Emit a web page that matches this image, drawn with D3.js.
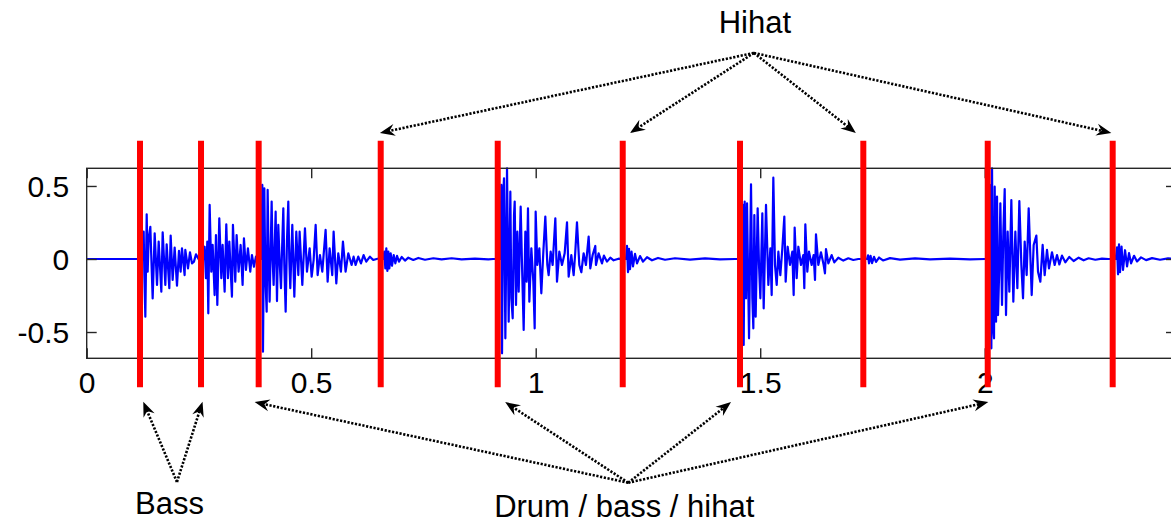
<!DOCTYPE html>
<html>
<head>
<meta charset="utf-8">
<script src="https://cdn.jsdelivr.net/npm/d3@7"></script>
<style>
  html, body { margin: 0; padding: 0; background: #fff; }
  svg { display: block; }
  text { font-family: "Liberation Sans", Arial, sans-serif; fill: #000; }
</style>
</head>
<body>
<svg id="chart" width="1171" height="525"></svg>
<script>
// ---------- data ----------
const xTicks = [0, 0.5, 1, 1.5, 2];
const xTickLabels = ["0", "0.5", "1", "1.5", "2"];
const yTicks = [-0.5, 0, 0.5];
const yTickLabels = ["-0.5", "0", "0.5"];

// onset markers (seconds)
const onsetTimes = [0.1187, 0.2546, 0.383, 0.6548, 0.9154, 1.1938, 1.455, 1.7296, 2.0067, 2.285];

// waveform pieces: [time (s), amplitude]
const silenceStart = [[0, 0], [0.124, 0]];
const bassHit1 = [[0.1254,0],[0.1269,0.187],[0.1284,-0.11],[0.1306,-0.395],[0.1336,0.306],[0.1358,-0.087],[0.138,0.14],[0.1417,0.22],[0.1469,-0.27],[0.1514,0.176],[0.1566,-0.178],[0.1603,0.119],[0.1662,-0.224],[0.1692,0.183],[0.1751,-0.178],[0.1781,0.10],[0.184,-0.20],[0.187,0.16],[0.1914,-0.144],[0.1959,0.078],[0.2011,-0.183],[0.2055,0.055],[0.2092,-0.087],[0.2122,0.073],[0.2181,-0.11],[0.2196,0.062],[0.2256,-0.064],[0.23,0.046],[0.2345,-0.03],[0.2389,-0.018],[0.2434,0.032],[0.2500,-0.005]];
const bassHit2 = [[0.2612,0],[0.2627,0.084],[0.2656,-0.132],[0.2686,0.119],[0.2708,-0.372],[0.2738,0.37],[0.2775,-0.087],[0.2805,0.096],[0.2849,-0.247],[0.2879,0.164],[0.2909,-0.315],[0.2953,0.279],[0.2998,-0.132],[0.3027,0.096],[0.3072,-0.224],[0.3109,0.237],[0.3146,-0.132],[0.3176,0.119],[0.3235,-0.258],[0.3257,0.233],[0.3309,-0.155],[0.3339,0.164],[0.3383,-0.087],[0.3428,0.096],[0.3472,-0.178],[0.3502,0.142],[0.3547,-0.075],[0.3591,0.073],[0.3643,-0.087],[0.368,0.027],[0.3725,-0.053],[0.3769,0.016],[0.3829,0]];
const drumHit1 = [[0.3896,0],[0.3911,0.507],[0.3926,-0.635],[0.3956,0.484],[0.3978,-0.11],[0.4008,-0.361],[0.403,0.473],[0.4052,0],[0.4074,-0.292],[0.4119,0.393],[0.4141,0],[0.4163,-0.178],[0.4208,0.324],[0.4238,-0.288],[0.4267,0.233],[0.4297,-0.018],[0.4327,-0.2],[0.4356,0.119],[0.4379,0.347],[0.4401,-0.041],[0.4431,-0.361],[0.446,0.119],[0.449,0.393],[0.4512,0],[0.4534,-0.2],[0.4579,0.233],[0.4624,-0.258],[0.4668,0.187],[0.4713,-0.11],[0.4742,0.187],[0.4802,-0.178],[0.4861,0.21],[0.4906,-0.087],[0.4965,0.073],[0.501,-0.121],[0.5054,-0.007],[0.5099,0.233],[0.5143,-0.11],[0.5195,0.027],[0.5247,-0.087],[0.5321,0.199],[0.5366,-0.155],[0.541,0.073],[0.5469,-0.11],[0.5499,0.187],[0.5559,-0.167],[0.5603,0.039],[0.5662,-0.087],[0.5707,0.119],[0.5766,-0.087],[0.5826,0.039],[0.59,-0.041],[0.5944,0.016],[0.5989,-0.041],[0.6048,0.016],[0.6108,-0.03],[0.6167,0.027],[0.6226,-0.018],[0.6308,0.016],[0.6382,-0.007],[0.6456,0],[0.653,0.005]];
const hihatHit1 = [[0.6607,0],[0.6629,0.05],[0.6651,-0.064],[0.6673,0.073],[0.6696,-0.082],[0.6718,0.05],[0.674,-0.064],[0.677,0.039],[0.6799,-0.046],[0.6837,0.027],[0.6874,-0.03],[0.6911,0.021],[0.6955,-0.018],[0.7015,0.014],[0.7089,-0.011],[0.7163,0.009],[0.7274,-0.007],[0.7386,0.007],[0.7534,-0.005],[0.772,0.005],[0.7905,-0.003],[0.8128,0.005],[0.835,-0.003],[0.8647,0.003],[0.8944,-0.003],[0.9055,0]];
const drumHit2 = [[0.9212,0],[0.9235,0.507],[0.925,-0.646],[0.9272,0.416],[0.9294,0.553],[0.9324,-0.543],[0.9361,0.621],[0.9398,-0.429],[0.9435,0.461],[0.9457,-0.269],[0.9487,-0.406],[0.9517,0.301],[0.9532,0.393],[0.9561,-0.315],[0.9591,0.187],[0.9621,-0.224],[0.9665,0.358],[0.9695,-0.041],[0.9732,-0.486],[0.9769,0.187],[0.9799,-0.155],[0.9828,0.347],[0.9858,-0.292],[0.9903,0.073],[0.9947,-0.155],[0.9977,-0.475],[0.9999,0.324],[1.0036,-0.041],[1.0081,0.073],[1.0125,-0.235],[1.017,0.05],[1.0214,0.29],[1.0259,-0.041],[1.0288,-0.11],[1.0333,0.05],[1.0377,-0.041],[1.0437,0.279],[1.0474,-0.155],[1.0526,0.05],[1.0585,-0.041],[1.0645,0.039],[1.0697,0.251],[1.0734,-0.121],[1.0793,0.027],[1.0845,-0.11],[1.0882,0.05],[1.0919,0.251],[1.0971,-0.041],[1.1016,-0.091],[1.1067,0.039],[1.1119,-0.041],[1.1179,0.153],[1.1216,-0.064],[1.1268,0.027],[1.1327,0.089],[1.1342,-0.041],[1.1401,0.039],[1.1476,-0.03],[1.152,0.023],[1.1587,-0.018],[1.1661,0.009],[1.1735,-0.009],[1.1847,0.002],[1.1921,0]];
const hihatHit2 = [[1.2011,0],[1.2033,0.09],[1.2056,-0.09],[1.2078,0.07],[1.21,-0.07],[1.2134,0.05],[1.2167,-0.05],[1.2212,0.035],[1.2256,-0.03],[1.2323,0.02],[1.239,-0.018],[1.2479,0.012],[1.259,-0.009],[1.2724,0.007],[1.288,-0.005],[1.3102,0.005],[1.3437,-0.004],[1.3771,0.004],[1.4105,-0.003],[1.4439,0]];
const drumHit3 = [[1.4602,0],[1.4617,0.37],[1.4632,-0.589],[1.4654,0.393],[1.4684,-0.269],[1.4706,0.381],[1.4751,-0.543],[1.4795,0.511],[1.4825,-0.269],[1.4847,-0.475],[1.4869,0.301],[1.4899,-0.395],[1.4943,0.347],[1.4973,-0.041],[1.5003,-0.269],[1.5047,0.313],[1.5077,-0.338],[1.5129,0.37],[1.5181,-0.178],[1.5226,0.073],[1.5255,-0.247],[1.5292,0.557],[1.5329,-0.041],[1.5367,-0.178],[1.5404,0.05],[1.5448,-0.11],[1.5493,0.073],[1.5537,0.29],[1.5567,-0.155],[1.5611,0.084],[1.5663,-0.041],[1.5715,0.05],[1.5745,-0.247],[1.5767,0.215],[1.5812,-0.132],[1.5849,0.084],[1.5908,-0.041],[1.596,0.027],[1.5982,-0.2],[1.6005,0.237],[1.6049,-0.087],[1.6086,0.05],[1.6146,-0.041],[1.619,0.027],[1.622,-0.144],[1.6242,0.169],[1.6294,-0.041],[1.6353,0.046],[1.6413,-0.041],[1.6442,-0.098],[1.6465,0.068],[1.6517,-0.03],[1.6591,0.027],[1.665,-0.023],[1.6739,0.009],[1.6851,-0.011],[1.6962,0.005],[1.7073,-0.007],[1.7185,0]];
const hihatHit3 = [[1.7379,0],[1.7401,0.025],[1.7423,-0.03],[1.7457,0.022],[1.749,-0.028],[1.7535,0.015],[1.7579,-0.02],[1.7646,0.01],[1.7735,-0.01],[1.7891,0.006],[1.8114,-0.004],[1.8448,0.004],[1.8782,-0.003],[1.9228,0.003],[1.9673,-0.002],[2.0007,0]];
const drumHit4 = [[2.0125,0],[2.014,0.507],[2.0148,-0.612],[2.0163,0.621],[2.0185,-0.452],[2.0207,-0.543],[2.0222,0.495],[2.0252,-0.429],[2.0274,0.427],[2.0296,-0.384],[2.0326,-0.041],[2.0348,0.381],[2.0385,-0.315],[2.0415,0.187],[2.0445,0.479],[2.0474,-0.384],[2.0511,0.187],[2.0548,-0.224],[2.0593,0.404],[2.0637,-0.292],[2.0682,0.187],[2.0727,-0.2],[2.0771,0.397],[2.0816,-0.041],[2.0853,-0.269],[2.089,0.119],[2.0934,-0.11],[2.0979,0.347],[2.1023,-0.041],[2.1046,-0.247],[2.109,0.096],[2.115,0.16],[2.1187,-0.087],[2.1239,-0.155],[2.129,0.096],[2.1335,-0.11],[2.1387,0.062],[2.1431,-0.064],[2.1498,0.046],[2.1558,-0.041],[2.161,0.027],[2.1662,-0.037],[2.1721,0.023],[2.1795,-0.023],[2.1884,0.014],[2.198,-0.014],[2.2092,0.009],[2.2203,-0.009],[2.2314,0.005],[2.2463,-0.005],[2.2611,0.002],[2.276,0]];
const hihatHit4 = [[2.2918,0],[2.2947,0.08],[2.2969,-0.105],[2.2991,0.1],[2.3013,-0.09],[2.3047,0.085],[2.308,-0.075],[2.3125,0.06],[2.317,-0.05],[2.3214,0.04],[2.3259,-0.03],[2.3326,0.022],[2.3392,-0.017],[2.3481,0.011],[2.3593,-0.008],[2.3727,0.006],[2.3905,-0.005],[2.4083,0.004],[2.4239,0]];

// annotation targets (seconds) that the arrows point to
const hihatArrowTimes = [0.653, 1.210, 1.713, 2.282];
const bassArrowTimes = [0.126, 0.258];
const drumArrowTimes = [0.374, 0.932, 1.435, 2.008];
const annotationLabels = ["Hihat", "Bass", "Drum / bass / hihat"];

// ---------- layout ----------
const svg = d3.select("#chart");
const plot = { left: 86.7, right: 1176, top: 168.3, bottom: 358.3 };

const x = d3.scaleLinear().domain([0, 2.426]).range([plot.left, plot.right]);
const y = d3.scaleLinear().domain([-0.68, 0.621]).range([plot.bottom, plot.top]);

svg.append("rect").attr("width", 1171).attr("height", 525).attr("fill", "#fff");

svg.append("defs").append("clipPath").attr("id", "clip")
  .append("rect")
  .attr("x", plot.left).attr("y", plot.top - 2)
  .attr("width", plot.right - plot.left).attr("height", plot.bottom - plot.top + 4);

// waveform
const wave = [].concat(silenceStart, bassHit1, bassHit2, drumHit1, hihatHit1,
  drumHit2, hihatHit2, drumHit3, hihatHit3, drumHit4, hihatHit4);
const line = d3.line().x(d => x(d[0])).y(d => y(d[1]));
svg.append("path")
  .datum(wave)
  .attr("clip-path", "url(#clip)")
  .attr("d", line)
  .attr("fill", "none")
  .attr("stroke", "#0000ff")
  .attr("stroke-width", 2.2)
  .attr("stroke-linejoin", "round");

// axes (ticks inward on all sides, MATLAB style)
const tickLen = 10;
const axisColor = "#262626";
const fontSize = 30;

const axB = svg.append("g").attr("transform", `translate(0,${plot.bottom})`)
  .call(d3.axisBottom(x).tickValues(xTicks).tickSizeInner(-tickLen).tickSizeOuter(0)
    .tickFormat((d, i) => xTickLabels[i]));
const axT = svg.append("g").attr("transform", `translate(0,${plot.top})`)
  .call(d3.axisTop(x).tickValues(xTicks).tickSizeInner(-tickLen).tickSizeOuter(0)
    .tickFormat(""));
const axL = svg.append("g").attr("transform", `translate(${plot.left},0)`)
  .call(d3.axisLeft(y).tickValues(yTicks).tickSizeInner(-tickLen).tickSizeOuter(0)
    .tickFormat((d, i) => yTickLabels[i]));
const axR = svg.append("g").attr("transform", `translate(${plot.right},0)`)
  .call(d3.axisRight(y).tickValues(yTicks).tickSizeInner(-tickLen).tickSizeOuter(0)
    .tickFormat(""));

[axB, axT, axL, axR].forEach(g => {
  g.select(".domain").remove();
  g.selectAll(".tick line").attr("stroke", axisColor).attr("stroke-width", 1.4);
  g.selectAll("text").attr("font-family", '"Liberation Sans", Arial, sans-serif')
    .attr("font-size", fontSize).attr("fill", "#000");
});
axB.selectAll(".tick text").attr("y", 0).attr("dy", null).attr("transform", "translate(0,35)");
axL.selectAll(".tick text").attr("x", -17.5).attr("dy", "0.35em");

svg.append("rect")
  .attr("x", plot.left).attr("y", plot.top)
  .attr("width", plot.right - plot.left).attr("height", plot.bottom - plot.top)
  .attr("fill", "none").attr("stroke", axisColor).attr("stroke-width", 1.4);

// onset markers
svg.append("g").selectAll("line").data(onsetTimes).join("line")
  .attr("x1", d => x(d)).attr("x2", d => x(d))
  .attr("y1", y(0.81)).attr("y2", y(-0.878))
  .attr("stroke", "#ff0000").attr("stroke-width", 6);

// annotations
function arrow(g, x0, y0, x1, y1) {
  const ang = Math.atan2(y1 - y0, x1 - x0);
  const back = 9;
  const xe = x1 - back * Math.cos(ang), ye = y1 - back * Math.sin(ang);
  g.append("line").attr("x1", x0).attr("y1", y0).attr("x2", xe).attr("y2", ye)
    .attr("stroke", "#000").attr("stroke-width", 2.6).attr("stroke-dasharray", "2.2,1.6");
  g.append("path")
    .attr("d", "M0,0 L-15,-6 L-10,0 L-15,6 Z")
    .attr("transform", `translate(${x1},${y1}) rotate(${ang * 180 / Math.PI})`)
    .attr("fill", "#000");
}
const ann = svg.append("g");
const annFont = 31;

// Hihat
const hihatOrigin = [x(1.486), y(1.411)];
hihatArrowTimes.forEach(t => arrow(ann, hihatOrigin[0], hihatOrigin[1], x(t), y(0.863)));
ann.append("text").attr("x", hihatOrigin[0] + 1).attr("y", hihatOrigin[1] - 20)
  .attr("text-anchor", "middle").attr("font-size", annFont).text(annotationLabels[0]);

// Bass
const bassOrigin = [x(0.201), y(-1.527)];
bassArrowTimes.forEach(t => arrow(ann, bassOrigin[0], bassOrigin[1], x(t), y(-0.977)));
ann.append("text").attr("x", bassOrigin[0] - 7.5).attr("y", 514)
  .attr("text-anchor", "middle").attr("font-size", annFont).text(annotationLabels[1]);

// Drum / bass / hihat
const drumOrigin = [x(1.206), y(-1.532)];
drumArrowTimes.forEach(t => arrow(ann, drumOrigin[0], drumOrigin[1], x(t), y(-0.98)));
ann.append("text").attr("x", drumOrigin[0] - 4).attr("y", 517)
  .attr("text-anchor", "middle").attr("font-size", annFont).text(annotationLabels[2]);
</script>
</body>
</html>
